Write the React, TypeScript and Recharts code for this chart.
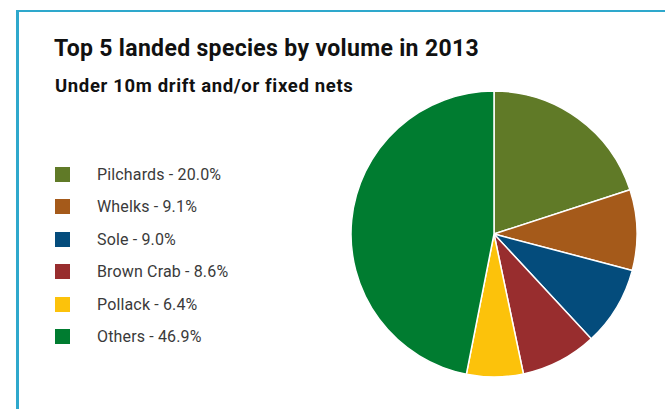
import { Legend, Pie, PieChart, Cell } from "recharts";

const species = ["Pilchards", "Whelks", "Sole", "Brown Crab", "Pollack", "Others"];
const shares = [20.0, 9.1, 9.0, 8.6, 6.4, 46.9];
const colors = ["#607a27", "#a55a1a", "#044c7c", "#982d2e", "#fcc20b", "#007c30"];

const data = species.map((name, i) => ({ name, value: shares[i], color: colors[i] }));

const textFont = "Roboto, 'DejaVu Sans', sans-serif";

function LegendList() {
  return (
    <div style={{ fontFamily: textFont }}>
      {data.map((d) => (
        <div
          key={d.name}
          style={{ display: "flex", alignItems: "center", height: 32.5 }}
        >
          <span
            style={{ width: 15, height: 15, background: d.color, display: "inline-block" }}
          />
          <span
            style={{
              marginLeft: 27,
              fontSize: 16,
              letterSpacing: 0.15,
              color: "#3a3a3a",
            }}
          >
            {d.name} - {d.value.toFixed(1)}%
          </span>
        </div>
      ))}
    </div>
  );
}

export default function App() {
  return (
    <div
      style={{
        position: "fixed",
        left: 0,
        top: 0,
        width: 665,
        height: 409,
        background: "#fff",
        overflow: "hidden",
      }}
    >
      <div
        style={{
          position: "absolute",
          left: 16,
          top: 10,
          width: 720,
          height: 460,
          borderTop: "2px solid #2ea8cc",
          borderLeft: "3px solid #2ea8cc",
        }}
      />
      <div
        style={{
          position: "absolute",
          left: 54,
          top: 35,
          fontFamily: textFont,
          fontWeight: 700,
          fontSize: 23,
          letterSpacing: 0.33,
          lineHeight: "27px",
          color: "#111",
          whiteSpace: "nowrap",
        }}
      >
        Top 5 landed species by volume in 2013
      </div>
      <div
        style={{
          position: "absolute",
          left: 55,
          top: 75,
          fontFamily: textFont,
          fontWeight: 700,
          fontSize: 18.5,
          letterSpacing: 0.65,
          lineHeight: "22px",
          color: "#111",
          whiteSpace: "nowrap",
        }}
      >
        Under 10m drift and/or fixed nets
      </div>
      <div style={{ position: "absolute", left: 0, top: 0 }}>
        <PieChart
          width={665}
          height={409}
          margin={{ top: 0, right: 0, bottom: 0, left: 0 }}
        >
          <Pie
            data={data}
            dataKey="value"
            nameKey="name"
            cx={494}
            cy={234}
            outerRadius={143}
            startAngle={90}
            endAngle={-270}
            stroke="#ffffff"
            strokeWidth={1.5}
            isAnimationActive={false}
          >
            {data.map((d) => (
              <Cell key={d.name} fill={d.color} />
            ))}
          </Pie>
          <Legend
            layout="vertical"
            wrapperStyle={{ left: 55, top: 158, width: 250 }}
            content={() => <LegendList />}
          />
        </PieChart>
      </div>
    </div>
  );
}
